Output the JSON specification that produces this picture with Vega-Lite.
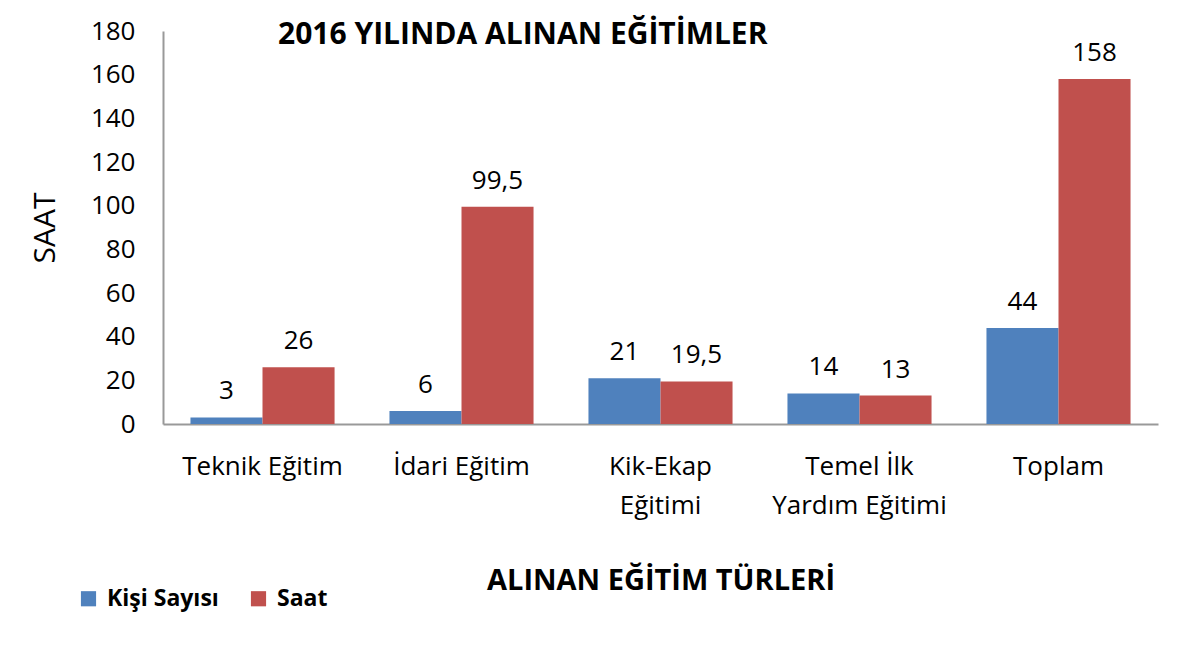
{
  "$schema": "https://vega.github.io/schema/vega-lite/v6.json",
  "autosize": {"type": "none"},
  "width": 995,
  "height": 393,
  "padding": {"left": 163, "top": 31, "right": 23, "bottom": 231},
  "background": "white",
  "config": {
    "font": "Open Sans",
    "view": {"stroke": null},
    "locale": {"number": {"decimal": ",", "thousands": ".", "grouping": [3], "currency": ["", " TL"]}}
  },
  "title": {
    "text": "2016 YILINDA ALINAN EĞİTİMLER",
    "anchor": "start",
    "frame": "group",
    "dx": 115,
    "offset": -32,
    "fontSize": 30,
    "fontWeight": "bold",
    "font": "Open Sans",
    "color": "black"
  },
  "data": {
    "values": [
      {"egitim": "Teknik Eğitim", "seri": "Kişi Sayısı", "deger": 3},
      {"egitim": "Teknik Eğitim", "seri": "Saat", "deger": 26},
      {"egitim": "İdari Eğitim", "seri": "Kişi Sayısı", "deger": 6},
      {"egitim": "İdari Eğitim", "seri": "Saat", "deger": 99.5},
      {"egitim": "Kik-Ekap|Eğitimi", "seri": "Kişi Sayısı", "deger": 21},
      {"egitim": "Kik-Ekap|Eğitimi", "seri": "Saat", "deger": 19.5},
      {"egitim": "Temel İlk|Yardım Eğitimi", "seri": "Kişi Sayısı", "deger": 14},
      {"egitim": "Temel İlk|Yardım Eğitimi", "seri": "Saat", "deger": 13},
      {"egitim": "Toplam", "seri": "Kişi Sayısı", "deger": 44},
      {"egitim": "Toplam", "seri": "Saat", "deger": 158}
    ]
  },
  "encoding": {
    "x": {
      "field": "egitim",
      "type": "nominal",
      "sort": null,
      "scale": {"paddingInner": 0.276, "paddingOuter": 0.138},
      "axis": {
        "title": "ALINAN EĞİTİM TÜRLERİ",
        "titleFontSize": 29,
        "titleFontWeight": "bold",
        "titleColor": "black",
        "titlePadding": 48,
        "labelExpr": "split(datum.label, '|')",
        "labelAngle": 0,
        "labelFontSize": 26,
        "labelColor": "black",
        "labelPadding": 29,
        "labelLineHeight": 39,
        "labelLimit": 400,
        "ticks": false,
        "domainColor": "#999999",
        "domainWidth": 2
      }
    },
    "xOffset": {"field": "seri", "type": "nominal", "scale": {"paddingInner": 0, "paddingOuter": 0}},
    "y": {
      "field": "deger",
      "type": "quantitative",
      "scale": {"domain": [0, 180]},
      "axis": {
        "title": "SAAT",
        "titleFontSize": 30,
        "titleFontWeight": "normal",
        "titleColor": "black",
        "titlePadding": 30,
        "values": [0, 20, 40, 60, 80, 100, 120, 140, 160, 180],
        "labelFontSize": 26,
        "labelColor": "black",
        "labelPadding": 28,
        "ticks": false,
        "grid": false,
        "domainColor": "#999999",
        "domainWidth": 2
      }
    },
    "color": {
      "field": "seri",
      "type": "nominal",
      "scale": {"domain": ["Kişi Sayısı", "Saat"], "range": ["#4F81BD", "#C0504D"]},
      "legend": {
        "title": null,
        "orient": "none",
        "direction": "horizontal",
        "legendX": -86,
        "legendY": 556,
        "symbolType": "square",
        "symbolSize": 230,
        "symbolStrokeWidth": 0,
        "labelFontSize": 23,
        "labelFontWeight": "bold",
        "labelColor": "black",
        "columnPadding": 28,
        "labelOffset": 7
      }
    }
  },
  "layer": [
    {"mark": {"type": "bar"}},
    {
      "mark": {"type": "text", "baseline": "bottom", "dy": -13, "fontSize": 26},
      "encoding": {
        "text": {"field": "deger", "type": "quantitative", "format": "~g"},
        "color": {"value": "black"}
      }
    }
  ]
}
